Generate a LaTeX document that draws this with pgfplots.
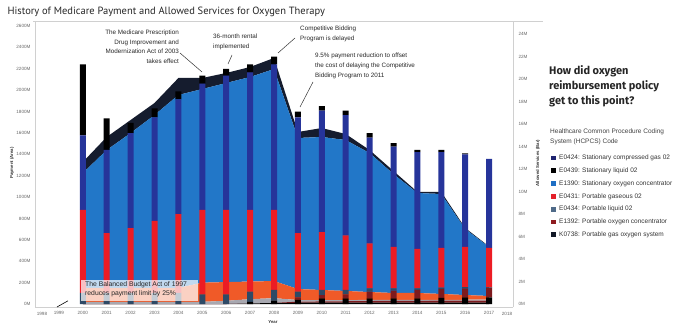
\documentclass[border=0pt]{standalone}
\usepackage{pgfplots}
\pgfplotsset{compat=1.18}
\usepackage{fontspec}
\setmainfont{Liberation Sans}
\newfontfamily\ptsans{PT Sans}
\newfontfamily\fira{Fira Sans}
\definecolor{cNavy}{HTML}{26349A}
\definecolor{cBlue}{HTML}{2277C8}
\definecolor{cRed}{HTML}{EC1C24}
\definecolor{cOrange}{HTML}{F05A28}
\definecolor{cSlate}{HTML}{2E4A66}
\definecolor{cDarkRed}{HTML}{7E1A1E}
\definecolor{cBand}{HTML}{151C2E}
\definecolor{cGreyA}{HTML}{A8A8B0}
\definecolor{cAxis}{HTML}{D0D0D0}
\definecolor{cTick}{HTML}{666666}
\begin{document}
\begin{tikzpicture}[x=1pt,y=1pt]
\path[use as bounding box] (0,0) rectangle (700,330);
% ---------- AREA (payment, left axis) ----------
\begin{axis}[
  at={(35pt,23pt)}, anchor=south west,
  width=478pt, height=286pt, scale only axis,
  xmin=1998, xmax=2018, ymin=-28, ymax=2647,
  axis y line*=left, axis x line*=bottom,
  axis line style={cAxis, line width=0.8pt},
  x axis line style={-}, y axis line style={-},
  major tick length=0pt,
  xtick={1999,...,2017},
  xticklabel style={/pgf/number format/1000 sep={}},
  ytick={0,200,...,2600},
  yticklabels={0M,200M,400M,600M,800M,1000M,1200M,1400M,1600M,1800M,2000M,2200M,2400M,2600M},
  /pgf/number format/assume math mode=true,
  tick label style={font=\fontsize{4.6}{5}\selectfont, text=cTick},
  xticklabel style={yshift=-1pt},
  yticklabel style={xshift=-1pt},
  stack plots=y,
  clip=false,
]
\addplot[fill=black, draw=none] coordinates {(2000,0)(2001,0)(2002,0)(2003,0)(2004,0)(2005,0)(2006,0)(2007,5)(2008,10)(2009,12)(2010,12)(2011,12)(2012,12)(2013,12)(2014,12)(2015,12)(2016,12)(2017,12)} \closedcycle;
\addplot[fill=cDarkRed, draw=none] coordinates {(2000,0)(2001,0)(2002,0)(2003,0)(2004,0)(2005,0)(2006,0)(2007,0)(2008,0)(2009,10)(2010,12)(2011,14)(2012,16)(2013,17)(2014,18)(2015,19)(2016,20)(2017,20)} \closedcycle;
\addplot[fill=cGreyA, draw=none] coordinates {(2000,20)(2001,20)(2002,20)(2003,20)(2004,20)(2005,20)(2006,30)(2007,40)(2008,45)(2009,15)(2010,13)(2011,11)(2012,10)(2013,9)(2014,8)(2015,8)(2016,8)(2017,8)} \closedcycle;
\addplot[fill=cOrange, draw=none] coordinates {(2000,130)(2001,130)(2002,130)(2003,130)(2004,130)(2005,180)(2006,175)(2007,165)(2008,160)(2009,103)(2010,94)(2011,85)(2012,74)(2013,65)(2014,65)(2015,55)(2016,44)(2017,35)} \closedcycle;
\addplot[fill=cBlue, draw=none] coordinates {(2000,1075)(2001,1290)(2002,1449)(2003,1618)(2004,1805)(2005,1811)(2006,1862)(2007,1913)(2008,1983)(2009,1413)(2010,1431)(2011,1412)(2012,1300)(2013,1113)(2014,935)(2015,935)(2016,617)(2017,458)} \closedcycle;
\addplot[fill=cBand, draw=none] coordinates {(2000,103)(2001,122)(2002,122)(2003,112)(2004,159)(2005,103)(2006,94)(2007,94)(2008,103)(2009,56)(2010,84)(2011,56)(2012,28)(2013,28)(2014,10)(2015,19)(2016,10)(2017,5)} \closedcycle;
\end{axis}
\begin{axis}[
  at={(35pt,23pt)}, anchor=south west,
  width=478pt, height=286pt, scale only axis,
  xmin=1998, xmax=2018, ymin=-28, ymax=2647,
  axis lines=none, clip=false,
]
\addplot[black, line width=0.6pt] coordinates {(1998.92,-28)(1999.38,30)};
\end{axis}
% ---------- BARS (allowed services, right axis) ----------
\begin{axis}[
  at={(35pt,23pt)}, anchor=south west,
  width=478pt, height=286pt, scale only axis,
  xmin=1998, xmax=2018, ymin=-0.267, ymax=25.16,
  axis y line*=right, axis x line=none,
  axis line style={cAxis, line width=0.8pt},
  y axis line style={-},
  major tick length=0pt,
  ytick={0,2,...,24},
  yticklabels={0M,2M,4M,6M,8M,10M,12M,14M,16M,18M,20M,22M,24M},
  /pgf/number format/assume math mode=true,
  tick label style={font=\fontsize{4.6}{5}\selectfont, text=cTick},
  yticklabel style={xshift=2pt},
  ybar stacked, bar width=6pt,
  clip=false,
]
\addplot[fill=black, draw=none] coordinates {(2000,0)(2001,0)(2002,0)(2003,0)(2004,0)(2005,0)(2006,0)(2007,0.2)(2008,0.3)(2009,0.4)(2010,0.5)(2011,0.5)(2012,0.5)(2013,0.5)(2014,0.5)(2015,0.55)(2016,0.6)(2017,0.6)};
\addplot[fill=cDarkRed, draw=none] coordinates {(2000,0)(2001,0)(2002,0)(2003,0)(2004,0)(2005,0)(2006,0)(2007,0)(2008,0)(2009,0.2)(2010,0.3)(2011,0.35)(2012,0.6)(2013,0.7)(2014,0.75)(2015,0.8)(2016,0.8)(2017,0.85)};
\addplot[fill=cSlate, draw=none] coordinates {(2000,1.0)(2001,1.0)(2002,1.0)(2003,1.0)(2004,1.0)(2005,0.85)(2006,0.85)(2007,0.9)(2008,0.95)(2009,0.5)(2010,0.45)(2011,0.4)(2012,0.3)(2013,0.2)(2014,0.15)(2015,0.1)(2016,0.1)(2017,0.05)};
\addplot[fill=cRed, draw=none] coordinates {(2000,7.36)(2001,5.3)(2002,5.75)(2003,6.4)(2004,7.0)(2005,7.51)(2006,7.51)(2007,7.26)(2008,7.11)(2009,5.2)(2010,5.15)(2011,4.85)(2012,4.0)(2013,3.67)(2014,3.5)(2015,3.55)(2016,3.57)(2017,3.5)};
\addplot[fill=cNavy, draw=none] coordinates {(2000,6.64)(2001,7.4)(2002,8.45)(2003,9.2)(2004,10.2)(2005,11.24)(2006,11.94)(2007,12.24)(2008,12.94)(2009,10.3)(2010,10.8)(2011,10.7)(2012,9.4)(2013,8.93)(2014,8.6)(2015,8.5)(2016,8.23)(2017,7.9)};
\addplot[fill=black, draw=none] coordinates {(2000,6.3)(2001,2.8)(2002,0.9)(2003,0.8)(2004,0.7)(2005,0.7)(2006,0.6)(2007,0.7)(2008,0.7)(2009,0.5)(2010,0.4)(2011,0.4)(2012,0.4)(2013,0.3)(2014,0.2)(2015,0.2)(2016,0.1)(2017,0.0)};
\end{axis}
% edge year labels (set inward, as in the reference)
\node[font=\fontsize{4.6}{5}\selectfont, text=cTick] at (42,16.5) {1998};
\node[font=\fontsize{4.6}{5}\selectfont, text=cTick] at (507,16.5) {2018};
% top rule
\draw[cAxis, line width=0.6pt] (33,309) -- (543,309);
% title
\node[anchor=west, font=\ptsans\fontsize{10.5}{12}\selectfont, text=black!85] at (4,318) {History of Medicare Payment and Allowed Services for Oxygen Therapy};
% axis titles
\node[rotate=90, font=\bfseries\fontsize{4.3}{5}\selectfont, text=black!80] at (12,167) {Payment (Area)};
\node[rotate=90, font=\bfseries\fontsize{4.3}{5}\selectfont, text=black!80] at (538,167) {Allowed Services (Bar)};
\node[font=\bfseries\fontsize{4.3}{5}\selectfont, text=black!80] at (273,8) {Year};
% annotations
\node[anchor=north east, align=right, font=\fontsize{6.3}{9.6}\selectfont, text=black!85, inner sep=0pt] at (179,300) {The Medicare Prescription\\Drug Improvement and\\Modernization Act of 2003\\takes effect};
\draw[black!80, line width=0.5pt] (180,277) -- (202,258);
\node[anchor=north west, align=left, font=\fontsize{6.3}{9.6}\selectfont, text=black!85, inner sep=0pt] at (213,296) {36-month rental\\implemented};
\draw[black!80, line width=0.5pt] (232,275) -- (228,266);
\node[anchor=north west, align=left, font=\fontsize{6.3}{9.6}\selectfont, text=black!85, inner sep=0pt] at (300,304) {Competitive Bidding\\Program is delayed};
\draw[black!80, line width=0.5pt] (295,292) -- (278,277);
\node[anchor=north west, align=left, font=\fontsize{6.3}{9.8}\selectfont, text=black!85, inner sep=0pt] at (315,277) {9.5\% payment reduction to offset\\the cost of delaying the Competitive\\Bidding Program to 2011};
\draw[black!80, line width=0.5pt] (313,248) -- (300,223);
% box annotation
\fill[white, opacity=0.72] (81,29) rectangle (198,50);
\node[anchor=north west, align=left, font=\fontsize{6.8}{9}\selectfont, text=black!85, inner sep=0pt] at (85,49) {The Balanced Budget Act of 1997\\reduces payment limit by 25\%};
% right panel
\node[anchor=north west, align=left, font=\fira\bfseries\fontsize{11}{15}\selectfont, text=black!85, inner sep=0pt] at (549,265) {How did oxygen\\reimbursement policy\\get to this point?};
\node[anchor=north west, align=left, font=\fontsize{6.5}{10}\selectfont, text=black!75, inner sep=0pt] at (550,201) {Healthcare Common Procedure Coding\\System (HCPCS) Code};
\foreach \c/\t [count=\i] in {1F2470/{E0424: Stationary compressed gas 02},000000/{E0439: Stationary liquid 02},1F6FC4/{E1390: Stationary oxygen concentrator},E4202A/{E0431: Portable gaseous 02},4F6A88/{E0434: Portable liquid 02},8E1B1F/{E1392: Portable oxygen concentrator},121826/{K0738: Portable gas oxygen system}}{
  \definecolor{tmp}{HTML}{\c}
  \pgfmathsetmacro{\yy}{330-158-(\i-1)*12.8}
  \fill[tmp] (551,\yy-2.4) rectangle (556,\yy+2.4);
  \node[anchor=west, font=\fontsize{6.5}{8}\selectfont, text=black!80, inner sep=0pt] at (559,\yy) {\t};
}
\end{tikzpicture}
\end{document}
